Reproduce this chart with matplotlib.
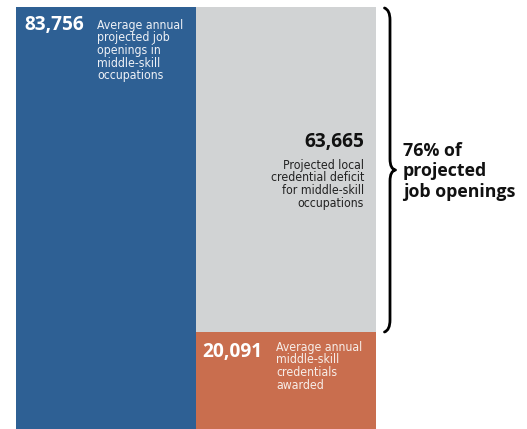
import os
import matplotlib
matplotlib.use("Agg")
import matplotlib.pyplot as plt
from matplotlib.path import Path
from matplotlib.patches import PathPatch
from matplotlib import font_manager as fm

# ---- data ----
openings = 83756          # average annual projected job openings
credentials = 20091       # average annual middle-skill credentials awarded
deficit = 63665           # projected local credential deficit
share_lines = ["76% of", "projected", "job openings"]

opening_label = "83,756"
deficit_label = "63,665"
credential_label = "20,091"
opening_lines = ["Average annual", "projected job", "openings in", "middle-skill", "occupations"]
deficit_lines = ["Projected local", "credential deficit", "for middle-skill", "occupations"]
credential_lines = ["Average annual", "middle-skill", "credentials", "awarded"]

# ---- style ----
BLUE = "#2e6094"
GRAY = "#d1d3d4"
ORANGE = "#c96e4e"


def pick_condensed():
    prefs = ["liberationsansnarrow", "notosans-condensed", "notosanscondensed",
             "opensans-condensed", "opensanscondensed", "dejavusanscondensed",
             "robotocondensed", "narrow", "condensed"]
    bad = ("bold", "italic", "oblique", "light", "extra", "ultra", "semi",
           "black", "thin", "medium", "mono", "serif", "display", "heavy")
    best, best_rank = None, 99
    for f in fm.fontManager.ttflist:
        base = os.path.basename(f.fname).lower().replace(" ", "").replace("_", "-")
        blob = base + " " + f.name.lower().replace(" ", "")
        if "narrow" not in blob and "condensed" not in blob:
            continue
        if any(b in base for b in bad):
            continue
        for r, p in enumerate(prefs):
            if p in blob.replace("-", "") or p in blob:
                if r < best_rank:
                    best, best_rank = f.fname, r
                break
    return best


cond = pick_condensed()
if cond:
    NARROW = dict(fontproperties=fm.FontProperties(fname=cond, size=8.8))
else:
    NARROW = dict(family=["Liberation Sans", "DejaVu Sans"], fontsize=8.6)

BOLD = ["Open Sans", "DejaVu Sans"]

W, H = 527, 429
fig = plt.figure(figsize=(W / 100, H / 100), dpi=100)
fig.patch.set_facecolor("white")

px_per_unit = 325 / deficit
ax_h = openings * px_per_unit
ax = fig.add_axes([16 / W, (H - (7 + ax_h)) / H, 360 / W, ax_h / H])
ax.set_xlim(0, 2)
ax.set_ylim(0, openings)
ax.axis("off")

ax.bar(0, openings, width=1, align="edge", color=BLUE, linewidth=0)
ax.bar(1, credentials, width=1, align="edge", color=ORANGE, linewidth=0)
ax.bar(1, deficit, width=1, bottom=credentials, align="edge", color=GRAY, linewidth=0)

LG = 12.7  # line gap in pixels
num_size = 13.8


def put_bold(txt, xy, dx, dy, ha, color, size):
    ax.annotate(txt, xy=xy, xycoords="data", xytext=(dx, dy),
                textcoords="offset pixels", ha=ha, va="baseline",
                color=color, family=BOLD, fontsize=size, fontweight="bold",
                annotation_clip=False)


def put_small(txt, xy, dx, dy, ha, color):
    ax.annotate(txt, xy=xy, xycoords="data", xytext=(dx, dy),
                textcoords="offset pixels", ha=ha, va="baseline",
                color=color, annotation_clip=False, **NARROW)


# blue bar labels
put_bold(opening_label, (0, openings), 8, -23, "left", "white", num_size)
for i, ln in enumerate(opening_lines):
    put_small(ln, (0, openings), 81, -21.7 - i * LG, "left", "#eef1f6")

# gray bar labels (anchored on the middle of the gray segment, right edge)
mid = credentials + deficit / 2
put_bold(deficit_label, (2, mid), -12, 22.5, "right", "#111111", num_size)
for i, ln in enumerate(deficit_lines):
    put_small(ln, (2, mid), -12, 0.8 - i * LG, "right", "#222222")

# orange bar labels
put_bold(credential_label, (1, credentials), 6, -25, "left", "white", num_size)
for i, ln in enumerate(credential_lines):
    put_small(ln, (1, credentials), 80, -18.7 - i * LG, "left", "#f7ede8")

# brace text
for i, ln in enumerate(share_lines):
    put_bold(ln, (2, mid), 27, 13.8 - i * 20.5, "left", "#111111", 12.8)

# ---- brace (data coords) ----
upx = 1 / px_per_unit          # data units per pixel (y)
xpx = 2 / 360                  # data units per pixel (x)
top = openings - 1 * upx
bot = credentials
xv = 2 + 14 * xpx
xh = 2 + 8.5 * xpx
xt = 2 + 19.5 * xpx
ym = mid - 0.5 * upx
verts = [
    (xh, top), (xv, top - 2 * upx), (xv, top - 12 * upx),
    (xv, ym + 11 * upx),
    (xv, ym + 1 * upx), (xt, ym),
    (xv, ym - 1 * upx), (xv, ym - 11 * upx),
    (xv, bot + 12 * upx),
    (xv, bot + 2 * upx), (xh, bot),
]
codes = [Path.MOVETO, Path.CURVE3, Path.CURVE3, Path.LINETO,
         Path.CURVE3, Path.CURVE3, Path.CURVE3, Path.CURVE3,
         Path.LINETO, Path.CURVE3, Path.CURVE3]
ax.add_patch(PathPatch(Path(verts, codes), fill=False, lw=2.0, color="black",
                       capstyle="round", joinstyle="round", clip_on=False))

fig.savefig("out.png", dpi=100, facecolor="white")
